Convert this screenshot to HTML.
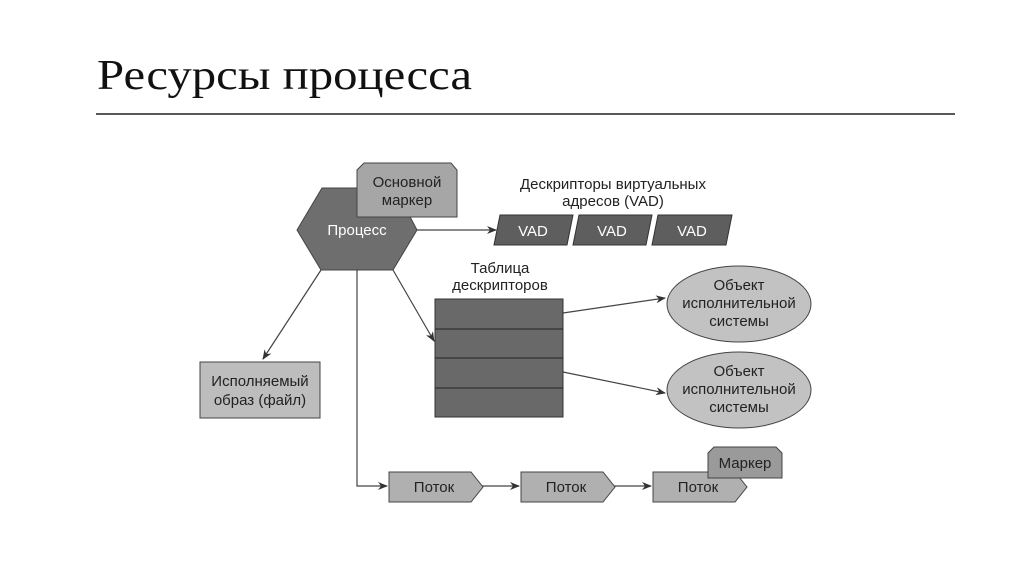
<!DOCTYPE html>
<html><head><meta charset="utf-8"><style>
html,body{margin:0;padding:0;background:#fff;}
svg{display:block;}
text{font-family:"Liberation Sans",sans-serif;}
</style></head><body>
<svg width="1024" height="574" viewBox="0 0 1024 574" xmlns="http://www.w3.org/2000/svg">
<defs>
<marker id="a" markerWidth="10" markerHeight="8" refX="9" refY="4" orient="auto" markerUnits="userSpaceOnUse">
<path d="M0,0 L10,4 L0,8 L3,4 Z" fill="#333"/></marker>
</defs>
<text x="97" y="89" font-size="42" textLength="375" lengthAdjust="spacingAndGlyphs" fill="#111" style="font-family:'Liberation Serif',serif">Ресурсы процесса</text>
<line x1="96" y1="114" x2="955" y2="114" stroke="#222" stroke-width="1.5"/>

<g stroke="#444" stroke-width="1.2" fill="none">
<line x1="417" y1="230" x2="496" y2="230" marker-end="url(#a)"/>
<line x1="393" y1="270" x2="434" y2="341" marker-end="url(#a)"/>
<line x1="321" y1="270" x2="263" y2="359" marker-end="url(#a)"/>
<polyline points="357,270 357,486 387,486" marker-end="url(#a)"/>
<line x1="470" y1="486" x2="519" y2="486" marker-end="url(#a)"/>
<line x1="603" y1="486" x2="651" y2="486" marker-end="url(#a)"/>
<line x1="563" y1="313" x2="665" y2="298" marker-end="url(#a)"/>
<line x1="563" y1="372" x2="665" y2="393" marker-end="url(#a)"/>
</g>

<polygon points="297,230 322,188 395,188 417,230 393,270 321,270" fill="#6e6e6e" stroke="#444"/>
<text x="357" y="235" font-size="15" fill="#fff" text-anchor="middle">Процесс</text>

<polygon points="357,217 357,170 364,163 451,163 457,170 457,217" fill="#a6a6a6" stroke="#444"/>
<text x="407" y="187" font-size="15" fill="#222" text-anchor="middle">Основной</text>
<text x="407" y="205" font-size="15" fill="#222" text-anchor="middle">маркер</text>

<text x="613" y="189" font-size="15" fill="#222" text-anchor="middle">Дескрипторы виртуальных</text>
<text x="613" y="206" font-size="15" fill="#222" text-anchor="middle">адресов (VAD)</text>
<g fill="#5e5e5e" stroke="#333">
<polygon points="494,245 500,215 573,215 567,245"/>
<polygon points="573,245 579,215 652,215 646,245"/>
<polygon points="652,245 658,215 732,215 726,245"/>
</g>
<g font-size="15" fill="#fff" text-anchor="middle">
<text x="533" y="236">VAD</text><text x="612" y="236">VAD</text><text x="692" y="236">VAD</text>
</g>

<text x="500" y="273" font-size="15" fill="#222" text-anchor="middle">Таблица</text>
<text x="500" y="290" font-size="15" fill="#222" text-anchor="middle">дескрипторов</text>
<rect x="435" y="299" width="128" height="118" fill="#696969" stroke="#333"/>
<g stroke="#222"><line x1="435" y1="329" x2="563" y2="329"/><line x1="435" y1="358" x2="563" y2="358"/><line x1="435" y1="388" x2="563" y2="388"/></g>

<g fill="#c2c2c2" stroke="#444">
<ellipse cx="739" cy="304" rx="72" ry="38"/>
<ellipse cx="739" cy="390" rx="72" ry="38"/>
</g>
<g font-size="15" fill="#222" text-anchor="middle">
<text x="739" y="290">Объект</text><text x="739" y="308">исполнительной</text><text x="739" y="326">системы</text>
<text x="739" y="376">Объект</text><text x="739" y="394">исполнительной</text><text x="739" y="412">системы</text>
</g>

<rect x="200" y="362" width="120" height="56" fill="#bdbdbd" stroke="#444"/>
<text x="260" y="386" font-size="15" fill="#222" text-anchor="middle">Исполняемый</text>
<text x="260" y="405" font-size="15" fill="#222" text-anchor="middle">образ (файл)</text>

<g fill="#b0b0b0" stroke="#444">
<polygon points="389,472 471,472 483,487 471,502 389,502"/>
<polygon points="521,472 603,472 615,487 603,502 521,502"/>
<polygon points="653,472 735,472 747,487 735,502 653,502"/>
</g>
<g font-size="15" fill="#222" text-anchor="middle">
<text x="434" y="492">Поток</text><text x="566" y="492">Поток</text><text x="698" y="492">Поток</text>
</g>
<polygon points="708,478 708,453 714,447 776,447 782,453 782,478" fill="#9a9a9a" stroke="#444"/>
<text x="745" y="468" font-size="15" fill="#222" text-anchor="middle">Маркер</text>
</svg>
</body></html>
